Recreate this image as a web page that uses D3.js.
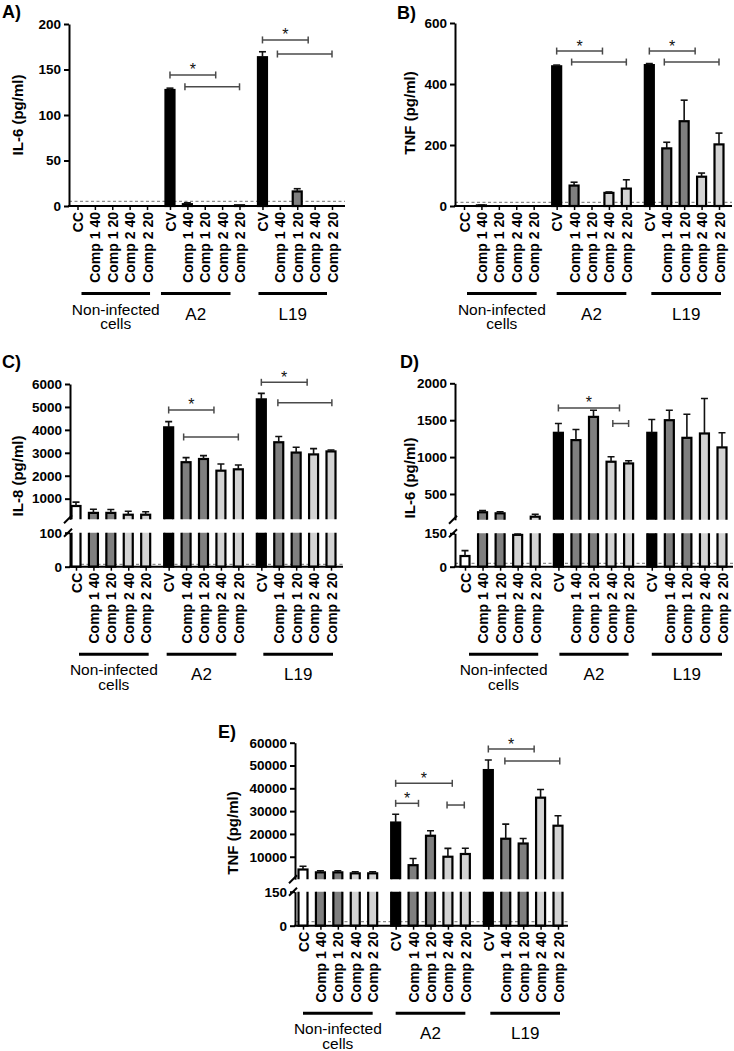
<!DOCTYPE html>
<html><head><meta charset="utf-8">
<script src="https://cdn.jsdelivr.net/npm/d3@7"></script>
<style>body{margin:0;background:#fff}svg{display:block}</style>
</head><body><svg id="c" width="734" height="1051"></svg>
<script>
// ---------- data ----------
const groupNames = ["Non-infected cells", "A2", "L19"];
const categories = ["CC","Comp 1 40","Comp 1 20","Comp 2 40","Comp 2 20",
                    "CV","Comp 1 40","Comp 1 20","Comp 2 40","Comp 2 20",
                    "CV","Comp 1 40","Comp 1 20","Comp 2 40","Comp 2 20"];
const panelTags = ["A)", "B)", "C)", "D)", "E)"];
const yTitles = ["IL-6 (pg/ml)", "TNF (pg/ml)", "IL-8 (pg/ml)", "IL-6 (pg/ml)", "TNF (pg/ml)"];

const aValues = [0,0,0,0,0, 127.5,2,0,0,0.8, 163.5,0,16,0,0];
const aErrors = [0,0,0,0,0, 2,1.5,0,0,0, 6,0,3,0,0];
const aTicks = [[0,50,100,150,200]];
const aLimit = 5;
const aBrackets = [{group:1,from:0,to:2.63,value:144,star:true},{group:1,from:0.86,to:4,value:131,star:false},
                   {group:2,from:0,to:2.63,value:182.5,star:true},{group:2,from:0.86,to:4,value:167,star:false}];

const bValues = [0,2,0,0,0, 458,67,0,43,57, 462,189,278,96,202];
const bErrors = [0,1,0,0,0, 4,11,0,3,29, 5,20,69,12,37];
const bTicks = [[0,200,400,600]];
const bLimit = 12;
const bBrackets = [{group:1,from:0,to:2.63,value:508,star:true},{group:1,from:0.86,to:4,value:472,star:false},
                   {group:2,from:0,to:2.63,value:508,star:true},{group:2,from:0.86,to:4,value:472,star:false}];

const cValues = [680,380,380,300,300, 4110,2590,2730,2220,2280, 5330,3460,3010,2930,3060];
const cErrors = [170,160,150,150,130, 250,200,145,290,190, 260,250,230,250,60];
const cTicks = [[0,100],[1000,2000,3000,4000,5000,6000]];
const cLimit = 7;
const cBrackets = [{group:1,from:0,to:2.6,value:4867,star:true},{group:1,from:0.86,to:4,value:3690,star:false},
                   {group:2,from:0,to:2.63,value:6074,star:true},{group:2,from:0.95,to:4.05,value:5185,star:false}];

const dValues = [48,252,238,143,192, 1329,1230,1545,937,914, 1329,1500,1261,1320,1131];
const dErrors = [24,22,22,5,33, 126,144,90,68,36, 180,135,320,473,198];
const dTicks = [[0,150],[500,1000,1500,2000]];
const dLimit = 15;
const dBrackets = [{group:1,from:0,to:3.48,value:1666,star:true},{group:1,from:3.1,to:4,value:1455,star:false}];

const eValues = [4400,3150,3150,2720,2720, 25000,6300,19200,10000,11200, 48000,17900,15800,35900,23600];
const eErrors = [1450,700,700,700,700, 3650,2900,2200,3650,2500, 4400,6400,2200,3600,4400];
const eTicks = [[0,150],[10000,20000,30000,40000,50000,60000]];
const eLimit = 18;
const eBrackets = [{group:1,from:0,to:3.25,value:42193,star:true},{group:1,from:0,to:1.31,value:33420,star:true},
                   {group:1,from:2.95,to:3.94,value:32675,star:false},
                   {group:2,from:0,to:2.63,value:57237,star:true},{group:2,from:0.95,to:4.1,value:51974,star:false}];

// ---------- layout ----------
const FONT = '"Liberation Sans", Arial, Helvetica, sans-serif';
const layouts = [
  {axisX:69, xFirst:77.5, xLast:332, xEnd:345, gap:0.32, segs:[{domain:[0,200],range:[206,24]}],
   tagX:2, tagY:18, titleX:18, titleY:115, lineShift:[[4,3],[-9,-9],[-4,-5]]},
  {axisX:455, xFirst:464, xLast:719, xEnd:732, gap:0.32, segs:[{domain:[0,600],range:[206,23]}],
   tagX:397, tagY:19, titleX:410, titleY:113, lineShift:[[3,3],[0,0],[2,2]]},
  {axisX:70, xFirst:76, xLast:331, xEnd:343, gap:0.32,
   segs:[{domain:[0,100],range:[566.7,532.7]},{domain:[100,6000],range:[519.3,384]}],
   tagX:2, tagY:368, titleX:18, titleY:476, lineShift:[[3,3],[-2,-2],[2,2]]},
  {axisX:455, xFirst:465, xLast:722, xEnd:733, gap:0.32,
   segs:[{domain:[0,150],range:[566.7,533.3]},{domain:[150,2000],range:[519.8,383.3]}],
   tagX:400, tagY:368, titleX:410, titleY:478, lineShift:[[4,3],[1,0],[0,0]]},
  {axisX:295, xFirst:303, xLast:558, xEnd:568, gap:0.32,
   segs:[{domain:[0,150],range:[925.7,891.7]},{domain:[150,60000],range:[879.2,742.7]}],
   tagX:218, tagY:738, titleX:233, titleY:833, lineShift:[[0,0],[0,0],[2,2]]}
];

const svg = d3.select("#c");
const fillOf = d3.scaleOrdinal().domain(["CC","CV","Comp 1","Comp 2"])
  .range(["#ffffff","#000000","#7f7f7f","#d3d3d3"]);
const kind = l => l.startsWith("Comp 1") ? "Comp 1" : l.startsWith("Comp 2") ? "Comp 2" : l;

function panel(p, values, errors, ticks, limit, brackets) {
  const L = layouts[p];
  const g = svg.append("g");
  const slotOf = i => i + Math.floor(i / 5) * L.gap;
  const x = d3.scaleLinear().domain([0, slotOf(14)]).range([L.xFirst, L.xLast]);
  const ys = L.segs.map(s => d3.scaleLinear().domain(s.domain).range(s.range));
  const y0 = L.segs[0].range[0];
  const bw = 9;
  const nSeg = ys.length;

  // detection limit
  g.append("line").attr("x1", L.axisX).attr("x2", L.xEnd)
    .attr("y1", ys[0](limit)).attr("y2", ys[0](limit))
    .attr("stroke", "#8c8c8c").attr("stroke-width", 1.3).attr("stroke-dasharray", "3,2.5");

  ys.forEach((y, si) => {
    const [d0, d1] = y.domain();
    const [r0, r1] = y.range();
    const isTop = si === nSeg - 1;
    const id = "clip" + p + "_" + si;
    g.append("clipPath").attr("id", id).append("rect")
      .attr("x", L.axisX).attr("width", L.xEnd - L.axisX + 6)
      .attr("y", isTop ? r1 - 60 : r1).attr("height", (r0 - r1) + (isTop ? 60 : 0) + (si === 0 ? 2 : 0));
    const cg = g.append("g").attr("clip-path", `url(#${id})`);
    values.forEach((v, i) => {
      if (v <= d0) return;
      const top = y(Math.min(v, d1 + (d1 - d0) * 0.3));
      const bottom = si === 0 ? r0 : r0 + 10;
      cg.append("rect").attr("x", x(slotOf(i)) - bw / 2).attr("y", top)
        .attr("width", bw).attr("height", bottom - top)
        .attr("fill", fillOf(kind(categories[i]))).attr("stroke", "#000").attr("stroke-width", 2.2);
    });
    values.forEach((v, i) => {
      const e = errors[i];
      if (!e || v + e <= d0 || v >= d1 + (d1 - d0) * 0.3) return;
      const cx = x(slotOf(i));
      const ya = y(Math.max(v, d0 - (d1 - d0) * 0.3)), yb = y(v + e);
      cg.append("line").attr("x1", cx).attr("x2", cx).attr("y1", ya).attr("y2", yb)
        .attr("stroke", "#111").attr("stroke-width", 1.6);
      cg.append("line").attr("x1", cx - 3.5).attr("x2", cx + 3.5).attr("y1", yb).attr("y2", yb)
        .attr("stroke", "#111").attr("stroke-width", 1.6);
    });
    // y axis of this segment
    const ag = g.append("g").attr("transform", `translate(${L.axisX},0)`)
      .call(d3.axisLeft(y).tickValues(ticks[si]).tickSize(5).tickSizeOuter(0).tickPadding(3).tickFormat(d3.format("d")));
    ag.attr("font-family", FONT).attr("font-size", 13.5).attr("font-weight", "bold");
    ag.select(".domain").attr("stroke", "#000").attr("stroke-width", 2);
    ag.selectAll(".tick line").attr("stroke", "#000").attr("stroke-width", 2);
    ag.selectAll(".tick text").attr("fill", "#000");
    // break marks
    if (nSeg > 1) {
      const yb = si === 0 ? r1 : r0;
      g.append("line").attr("x1", L.axisX - 6).attr("y1", yb + 4).attr("x2", L.axisX + 2).attr("y2", yb - 4)
        .attr("stroke", "#000").attr("stroke-width", 2);
    }
  });

  // x axis
  g.append("line").attr("x1", L.axisX - 1).attr("x2", L.xEnd).attr("y1", y0).attr("y2", y0)
    .attr("stroke", "#000").attr("stroke-width", 2);
  const xg = g.append("g").attr("transform", `translate(0,${y0})`)
    .call(d3.axisBottom(x).tickValues(d3.range(15).map(slotOf)).tickFormat((d, i) => categories[i])
      .tickSize(4).tickSizeOuter(0));
  xg.select(".domain").remove();
  xg.attr("font-family", FONT).attr("font-size", 14).attr("font-weight", "bold");
  xg.selectAll(".tick line").attr("stroke", "#000").attr("stroke-width", 1.5);
  xg.selectAll(".tick text").attr("fill", "#000").attr("transform", "rotate(-90)")
    .attr("x", -6).attr("y", 0).attr("dy", "0.36em").style("text-anchor", "end");

  // group lines & labels
  groupNames.forEach((name, gi) => {
    const xa = x(slotOf(gi * 5)) + L.lineShift[gi][0], xb = x(slotOf(gi * 5 + 4)) + L.lineShift[gi][1];
    const ly = y0 + 87.5;
    g.append("line").attr("x1", xa).attr("x2", xb).attr("y1", ly).attr("y2", ly)
      .attr("stroke", "#000").attr("stroke-width", 3);
    const words = name === "Non-infected cells" ? ["Non-infected", "cells"] : [name];
    const t = g.append("text").attr("font-family", FONT).attr("font-size", words.length > 1 ? 15.5 : 17)
      .attr("text-anchor", "middle").attr("fill", "#000");
    words.forEach((w, wi) => {
      t.append("tspan").attr("x", (xa + xb) / 2)
        .attr("y", ly + (words.length > 1 ? 21 + wi * 14.5 : 26)).text(w);
    });
  });

  // significance brackets
  const yTop = ys[nSeg - 1];
  brackets.forEach(b => {
    const base = slotOf(b.group * 5);
    const x1 = x(base + b.from), x2 = x(base + b.to), yy = yTop(b.value);
    const bg = g.append("g").attr("stroke", "#4a4a4a").attr("stroke-width", 1.5);
    bg.append("line").attr("x1", x1).attr("x2", x2).attr("y1", yy).attr("y2", yy);
    bg.append("line").attr("x1", x1).attr("x2", x1).attr("y1", yy - 3.5).attr("y2", yy + 3.5);
    bg.append("line").attr("x1", x2).attr("x2", x2).attr("y1", yy - 3.5).attr("y2", yy + 3.5);
    if (b.star) {
      g.append("text").attr("x", (x1 + x2) / 2).attr("y", yy + 0.5).attr("text-anchor", "middle")
        .attr("font-family", FONT).attr("font-size", 16).attr("fill", "#111").text("*");
    }
  });

  // y title & panel tag
  g.append("text").attr("transform", `translate(${L.titleX},${L.titleY}) rotate(-90)`)
    .attr("text-anchor", "middle").attr("dy", "0.35em").attr("font-family", FONT)
    .attr("font-size", 15).attr("font-weight", "bold").attr("fill", "#000").text(yTitles[p]);
  g.append("text").attr("x", L.tagX).attr("y", L.tagY).attr("font-family", FONT)
    .attr("font-size", 18).attr("font-weight", "bold").attr("fill", "#000").text(panelTags[p]);
}

panel(0, aValues, aErrors, aTicks, aLimit, aBrackets);
panel(1, bValues, bErrors, bTicks, bLimit, bBrackets);
panel(2, cValues, cErrors, cTicks, cLimit, cBrackets);
panel(3, dValues, dErrors, dTicks, dLimit, dBrackets);
panel(4, eValues, eErrors, eTicks, eLimit, eBrackets);
</script>
</body></html>
